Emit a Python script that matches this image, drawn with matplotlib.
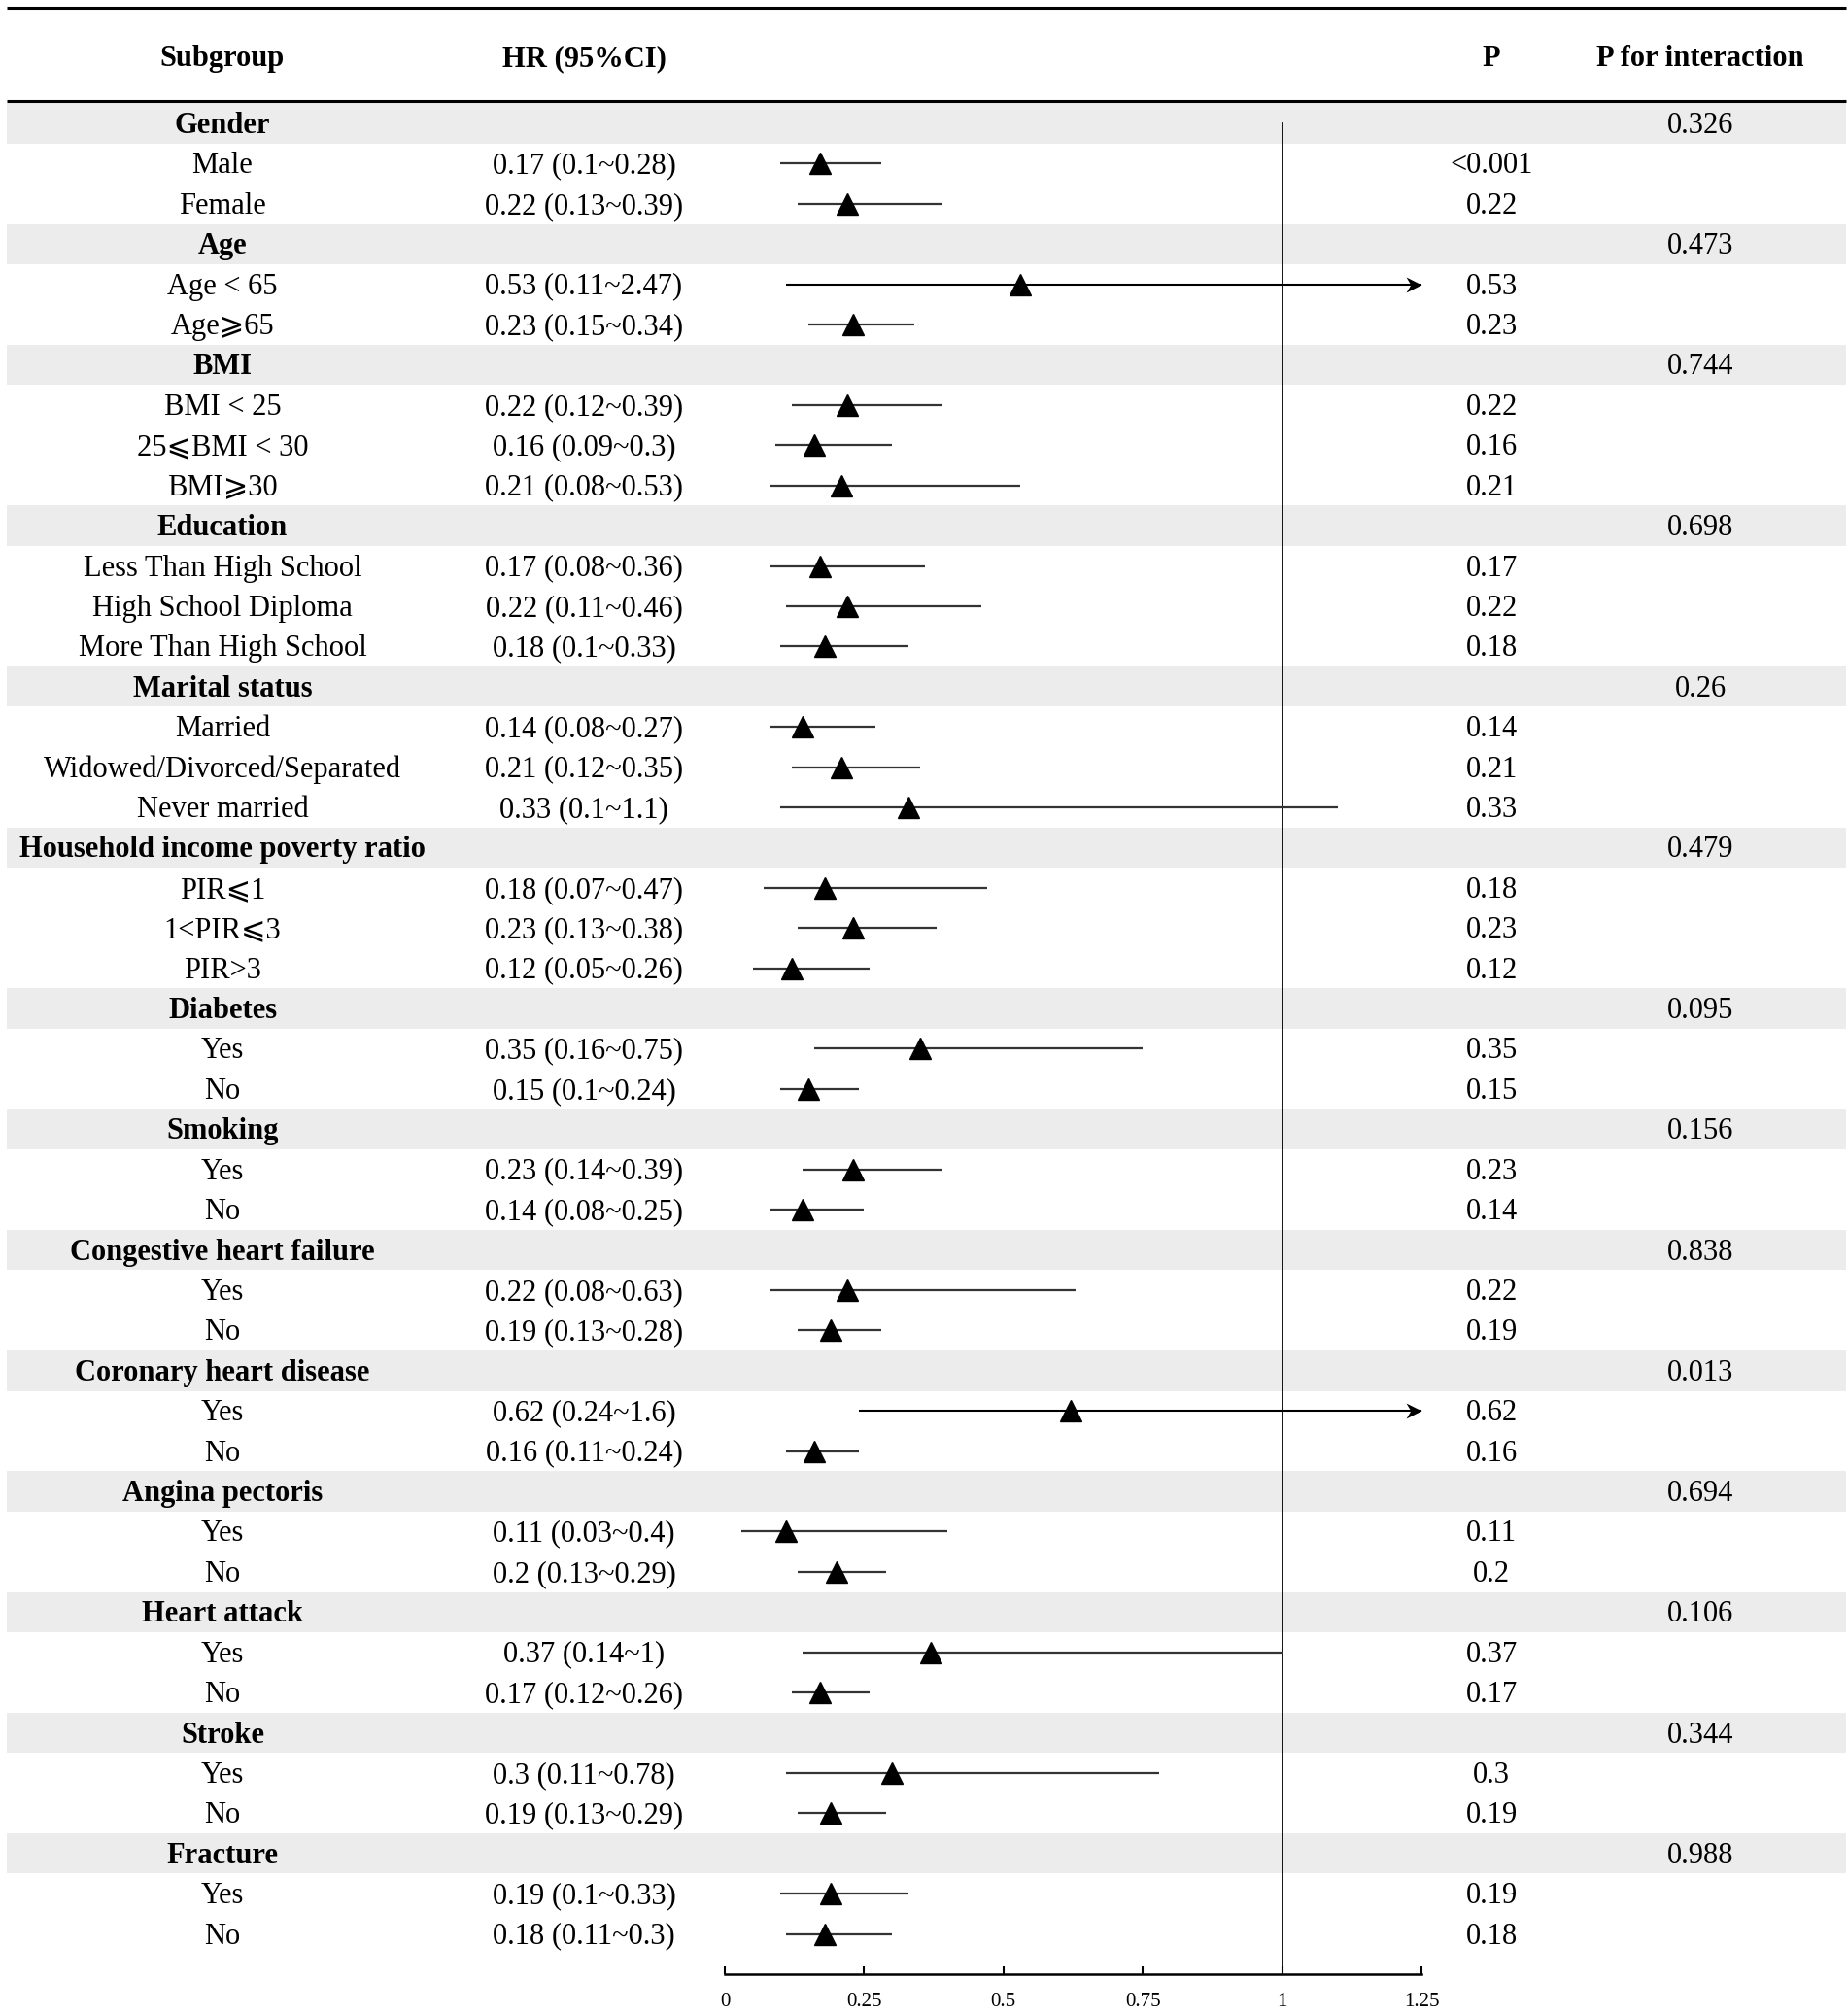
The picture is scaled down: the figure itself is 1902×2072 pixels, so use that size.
import numpy as np
import matplotlib
matplotlib.use("Agg")
import matplotlib.pyplot as plt
import matplotlib.transforms as mtransforms
from matplotlib.patches import Rectangle
from matplotlib.path import Path

plt.rcParams['font.family'] = ['Liberation Serif', 'DejaVu Serif', 'DejaVu Sans']

#### DATA
group_names = ["Gender", "Age", "BMI", "Education", "Marital status",
               "Household income poverty ratio", "Diabetes", "Smoking",
               "Congestive heart failure", "Coronary heart disease",
               "Angina pectoris", "Heart attack", "Stroke", "Fracture"]
group_sizes = [2, 2, 3, 3, 3, 3, 2, 2, 2, 2, 2, 2, 2, 2]
p_interaction = ["0.326", "0.473", "0.744", "0.698", "0.26", "0.479", "0.095",
                 "0.156", "0.838", "0.013", "0.694", "0.106", "0.344", "0.988"]

sub_labels = ["Male", "Female",
              "Age < 65", "Age\u2a7e65",
              "BMI < 25", "25\u2a7dBMI < 30", "BMI\u2a7e30",
              "Less Than High School", "High School Diploma", "More Than High School",
              "Married", "Widowed/Divorced/Separated", "Never married",
              "PIR\u2a7d1", "1<PIR\u2a7d3", "PIR>3",
              "Yes", "No", "Yes", "No", "Yes", "No", "Yes", "No",
              "Yes", "No", "Yes", "No", "Yes", "No", "Yes", "No"]
hr = [0.17, 0.22, 0.53, 0.23, 0.22, 0.16, 0.21, 0.17, 0.22, 0.18,
      0.14, 0.21, 0.33, 0.18, 0.23, 0.12, 0.35, 0.15, 0.23, 0.14,
      0.22, 0.19, 0.62, 0.16, 0.11, 0.2, 0.37, 0.17, 0.3, 0.19, 0.19, 0.18]
ci_low = [0.1, 0.13, 0.11, 0.15, 0.12, 0.09, 0.08, 0.08, 0.11, 0.1,
          0.08, 0.12, 0.1, 0.07, 0.13, 0.05, 0.16, 0.1, 0.14, 0.08,
          0.08, 0.13, 0.24, 0.11, 0.03, 0.13, 0.14, 0.12, 0.11, 0.13, 0.1, 0.11]
ci_high = [0.28, 0.39, 2.47, 0.34, 0.39, 0.3, 0.53, 0.36, 0.46, 0.33,
           0.27, 0.35, 1.1, 0.47, 0.38, 0.26, 0.75, 0.24, 0.39, 0.25,
           0.63, 0.28, 1.6, 0.24, 0.4, 0.29, 1, 0.26, 0.78, 0.29, 0.33, 0.3]
p_values = ["<0.001", "0.22", "0.53", "0.23", "0.22", "0.16", "0.21", "0.17",
            "0.22", "0.18", "0.14", "0.21", "0.33", "0.18", "0.23", "0.12",
            "0.35", "0.15", "0.23", "0.14", "0.22", "0.19", "0.62", "0.16",
            "0.11", "0.2", "0.37", "0.17", "0.3", "0.19", "0.19", "0.18"]

tick_vals = [0, 0.25, 0.5, 0.75, 1, 1.25]
tick_labels = ["0", "0.25", "0.5", "0.75", "1", "1.25"]

#### LAYOUT (pixels of a 1902 x 2072 figure)
W, H = 1902, 2072
row0_px, row_px = 127, 41.42
x0_px, x1_px = 746, 1463        # HR 0 and 1.25
axis_px = 2032
top_px = 7
col_sub, col_hr, col_p, col_pi = 229, 601, 1535, 1750
fs = 22
dy = 0.06   # text sits a touch below row centre
xmax = 1.25

# stealth arrow head, tip at the origin
arrow_head = Path([(0, 0), (-1, 0.5), (-0.7, 0), (-1, -0.5), (0, 0)],
                  [Path.MOVETO, Path.LINETO, Path.LINETO, Path.LINETO, Path.CLOSEPOLY])

fig = plt.figure(figsize=(W / 100, H / 100), dpi=100)
ymin = 46.0
ymax = (top_px - row0_px) / row_px
ax = fig.add_axes([x0_px / W, (H - axis_px) / H, (x1_px - x0_px) / W, (axis_px - top_px) / H])
ax.set_xlim(0, xmax)
ax.set_ylim(ymin, ymax)
blend = mtransforms.blended_transform_factory(fig.transFigure, ax.transData)

def px2y(p):
    return (p - row0_px) / row_px

# header
hy = px2y(61)
for xc, txt in [(col_sub, "Subgroup"), (col_hr, "HR (95%CI)"), (col_p, "P"), (col_pi, "P for interaction")]:
    ax.text(xc / W, hy, txt, transform=blend, ha='center', va='center',
            fontsize=fs, fontweight='bold')
for yp in [top_px + 1, 104]:
    ax.plot([7 / W, 1900 / W], [px2y(yp)] * 2, transform=blend, color='black',
            lw=2.2, clip_on=False, solid_capstyle='butt')

row = 0
k = 0
for g, name in enumerate(group_names):
    ax.add_patch(Rectangle((7 / W, row - 0.5), 1893 / W, 1.0, transform=blend,
                           facecolor='#ececec', edgecolor='none', zorder=0, clip_on=False))
    ax.text(col_sub / W, row + dy, name, transform=blend, ha='center', va='center',
            fontsize=fs, fontweight='bold')
    ax.text(col_pi / W, row + dy, p_interaction[g], transform=blend, ha='center', va='center',
            fontsize=fs)
    row += 1
    for j in range(group_sizes[g]):
        ax.text(col_sub / W, row + dy, sub_labels[k], transform=blend, ha='center', va='center', fontsize=fs)
        ax.text(col_hr / W, row + dy, "%g (%g~%g)" % (hr[k], ci_low[k], ci_high[k]),
                transform=blend, ha='center', va='center', fontsize=fs)
        ax.text(col_p / W, row + dy, p_values[k], transform=blend, ha='center', va='center', fontsize=fs)
        if ci_high[k] > xmax:
            # CI runs off the scale: draw to the edge and end with an arrow
            ax.hlines(row, ci_low[k], xmax, color='black', lw=1.5, zorder=2)
            ax.plot(xmax, row, marker=arrow_head, color='black', ms=23, mew=0,
                    zorder=3, clip_on=False)
        else:
            ax.hlines(row, ci_low[k], ci_high[k], color='#333333', lw=1.6, zorder=2)
        ax.plot(hr[k], row, marker='^', color='black', ms=16, zorder=3, clip_on=False)
        row += 1
        k += 1

ax.plot([1, 1], [0, ymin], color='black', lw=1.3, zorder=1)

for s in ['top', 'right', 'left']:
    ax.spines[s].set_visible(False)
ax.spines['bottom'].set_linewidth(1.8)
ax.spines['bottom'].set_bounds(0, xmax)
ax.set_yticks([])
ax.set_xticks(tick_vals)
ax.set_xticklabels(tick_labels)
ax.tick_params(axis='x', direction='in', length=6, width=1.5, pad=14, labelsize=15)
ax.patch.set_visible(False)

fig.savefig("out.png", dpi=100)
